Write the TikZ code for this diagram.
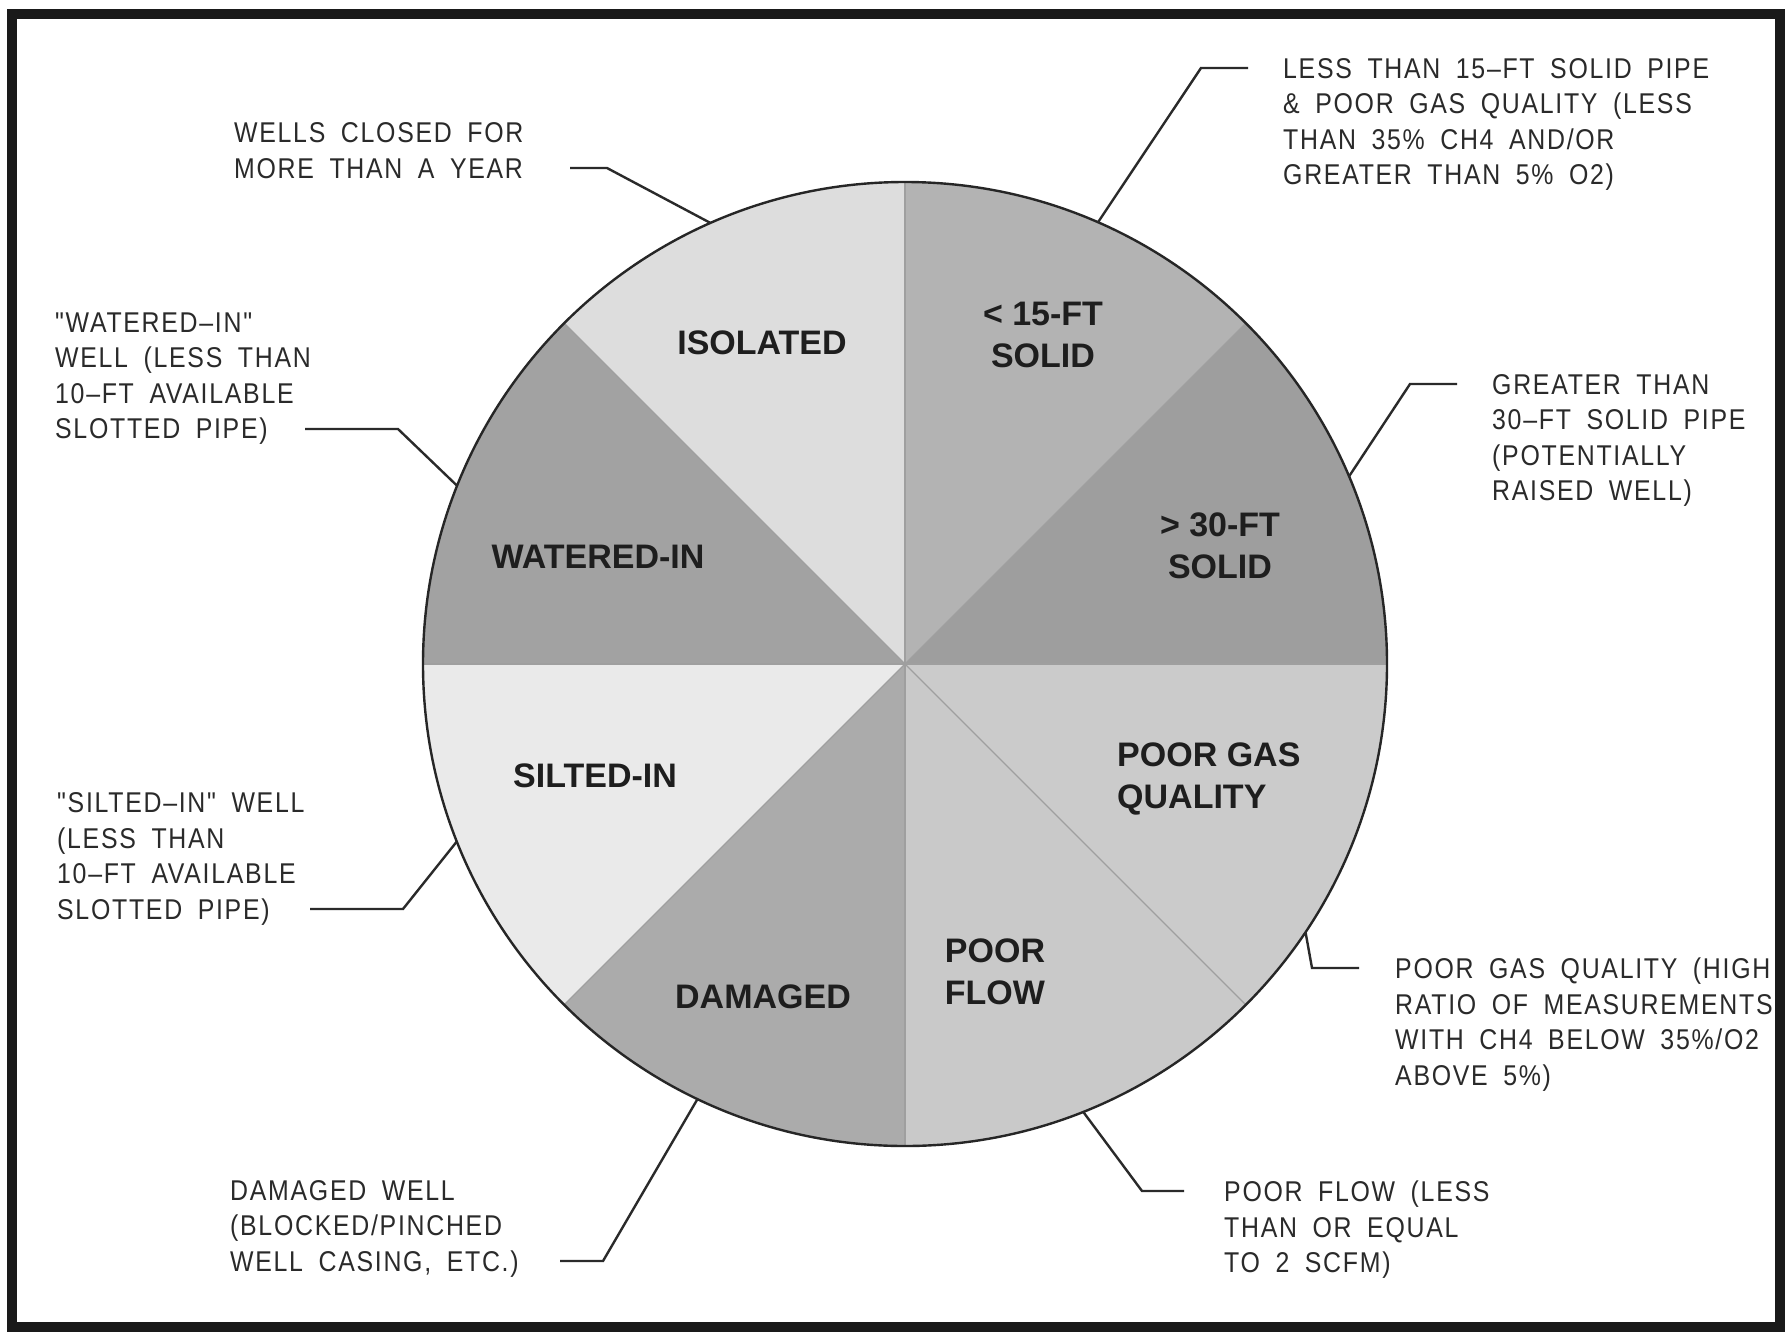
\documentclass[tikz,border=0pt]{standalone}
\usepackage{fontspec}
\usetikzlibrary{calc}
\newfontfamily\cadfont[FakeStretch=0.87,LetterSpace=6,WordSpace=1.8]{Liberation Sans}
\newfontfamily\labfont{Liberation Sans}
\definecolor{ink}{HTML}{2A2A2A}
\definecolor{labink}{HTML}{1E1E1E}
\definecolor{frame}{HTML}{1A1A1A}
\definecolor{cA}{HTML}{9E9E9E}
\definecolor{cB}{HTML}{B3B3B3}
\definecolor{cC}{HTML}{DDDDDD}
\definecolor{cD}{HTML}{A2A2A2}
\definecolor{cE}{HTML}{EAEAEA}
\definecolor{cF}{HTML}{ABABAB}
\definecolor{cG}{HTML}{C9C9C9}
\definecolor{cH}{HTML}{CBCBCB}
\begin{document}
\begin{tikzpicture}[x=1pt,y=-1pt,
  cad/.style={font=\cadfont\fontsize{28.6}{35.5}\selectfont, text=ink, align=left, inner sep=0pt, anchor=north west},
  lab/.style={font=\labfont\bfseries\fontsize{34}{42}\selectfont, text=labink, inner sep=0pt},
  leader/.style={draw=ink, line width=2.4pt, line join=miter},
  divider/.style={draw=gray!75, line width=1.2pt},
  rim/.style={draw=black!85, line width=2.4pt}]
\useasboundingbox (0,0) rectangle (1785,1333);
\fill[white] (0,0) rectangle (1785,1333);
\draw[line width=10pt, draw=frame] (12,14) rectangle (1780,1327);
\coordinate (C) at (905,664);
% sectors
\foreach \a/\b/\c in {0/45/cA,45/90/cB,90/135/cC,135/180/cD,180/225/cE,225/270/cF,270/315/cG,315/360/cH}
  \fill[\c] (C) -- ++(\a:482pt) arc[start angle=\a, end angle=\b, radius=482pt] -- cycle;
\foreach \a in {0,45,...,315}
  \draw[divider] (C) -- ++(\a:482pt);
\draw[rim] (C) circle[radius=482pt];
% sector labels
\node[lab] (lIso) at (762,343) {ISOLATED};
\node[lab, align=center] (lLess) at (1043,334.5) {< 15-FT\\SOLID};
\node[lab, align=center] (lMore) at (1220,545.5) {> 30-FT\\SOLID};
\node[lab] (lWat) at (598,557) {WATERED-IN};
\node[lab] (lSil) at (595,776) {SILTED-IN};
\node[lab] (lDam) at (763,997) {DAMAGED};
\node[lab, align=left] (lFlow) at (995,972) {POOR\\FLOW};
\node[lab, align=left, anchor=west] (lGas) at (1117,778.5) {POOR GAS\\QUALITY};
% annotation texts
\node[cad] (t1) at (234,122.5) {WELLS CLOSED FOR\\MORE THAN A YEAR};
\node[cad] (t2) at (1283,58) {LESS THAN 15–FT SOLID PIPE\\\& POOR GAS QUALITY (LESS\\THAN 35\% CH4 AND/OR\\GREATER THAN 5\% O2)};
\node[cad] (t3) at (1492,374) {GREATER THAN\\30–FT SOLID PIPE\\(POTENTIALLY\\RAISED WELL)};
\node[cad] (t4) at (55,312.5) {"WATERED–IN"\\WELL (LESS THAN\\10–FT AVAILABLE\\SLOTTED PIPE)};
\node[cad] (t5) at (57,792.5) {"SILTED–IN" WELL\\(LESS THAN\\10–FT AVAILABLE\\SLOTTED PIPE)};
\node[cad] (t6) at (1395,958) {POOR GAS QUALITY (HIGH\\RATIO OF MEASUREMENTS\\WITH CH4 BELOW 35\%/O2\\ABOVE 5\%)};
\node[cad] (t7) at (230,1180) {DAMAGED WELL\\(BLOCKED/PINCHED\\WELL CASING, ETC.)};
\node[cad] (t8) at (1224,1181) {POOR FLOW (LESS\\THAN OR EQUAL\\TO 2 SCFM)};
% leader coordinates
\coordinate (e1) at ($(C)+(113.8:482pt)$);
\coordinate (b1) at (607,168);
\coordinate (s1) at (570,168);
\coordinate (e2) at ($(C)+(66.4:482pt)$);
\coordinate (b2) at (1201,68);
\coordinate (s2) at (1248,68);
\coordinate (e3) at ($(C)+(22.9:482pt)$);
\coordinate (b3) at (1410,384);
\coordinate (s3) at (1457,384);
\coordinate (e4) at ($(C)+(158.3:482pt)$);
\coordinate (b4) at (398,429);
\coordinate (s4) at (305,429);
\coordinate (e5) at ($(C)+(201.6:482pt)$);
\coordinate (b5) at (403,909);
\coordinate (s5) at (310,909);
\coordinate (e6) at ($(C)+(-33.8:482pt)$);
\coordinate (b6) at (1312,968);
\coordinate (s6) at (1359,968);
\coordinate (e7) at ($(C)+(244.5:482pt)$);
\coordinate (b7) at (603,1261);
\coordinate (s7) at (560,1261);
\coordinate (e8) at ($(C)+(291.7:482pt)$);
\coordinate (b8) at (1142,1191);
\coordinate (s8) at (1184,1191);
\foreach \i in {1,...,8}
  \draw[leader] (s\i) -- (b\i) -- (e\i);
\end{tikzpicture}
\end{document}
